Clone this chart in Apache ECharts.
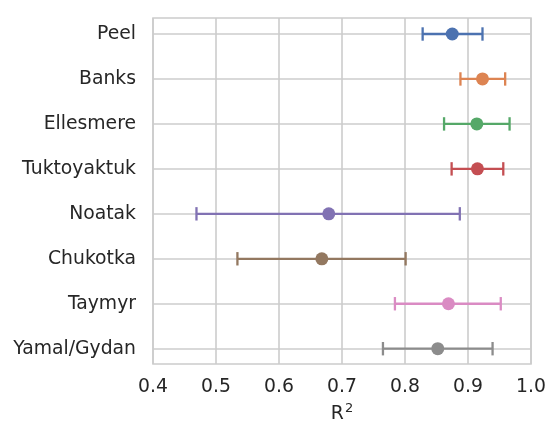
<!DOCTYPE html>
<html>
<head>
<meta charset="utf-8">
<script src="https://cdn.jsdelivr.net/npm/echarts@6/dist/echarts.min.js"></script>
<style>html,body{margin:0;padding:0;background:#fff;}#c{width:546px;height:424px;}</style>
</head>
<body>
<div id="c"></div>
<script>
var categories = ['Peel','Banks','Ellesmere','Tuktoyaktuk','Noatak','Chukotka','Taymyr','Yamal/Gydan'];
var means = [0.875, 0.923, 0.914, 0.915, 0.679, 0.668, 0.869, 0.852];
var lower = [0.828, 0.888, 0.862, 0.874, 0.469, 0.534, 0.784, 0.765];
var upper = [0.923, 0.959, 0.966, 0.956, 0.887, 0.801, 0.952, 0.939];
var xTicks = [0.4, 0.5, 0.6, 0.7, 0.8, 0.9, 1.0];
var colors = ['#4c72b0','#dd8452','#55a868','#c44e52','#8172b3','#937860','#da8bc3','#8c8c8c'];

var font = 'DejaVu Sans';
var txt = '#262626';
var gridCol = '#cccccc';
var fs = 18.8;

var chart = echarts.init(document.getElementById('c'), null, {renderer: 'canvas'});
var errData = categories.map(function (c, i) { return [lower[i], upper[i], i]; });
var ptData = categories.map(function (c, i) { return [means[i], c]; });

chart.setOption({
  animation: false,
  backgroundColor: '#fff',
  grid: [
    {left: 153, right: 15, top: 18, bottom: 60, show: true, borderColor: gridCol, borderWidth: 1.6,
     backgroundColor: 'transparent', containLabel: false, outerBoundsMode: 'none'},
    {left: 153, right: 15, top: 34, bottom: 75.3, containLabel: false, outerBoundsMode: 'none'}
  ],
  xAxis: [
    {gridIndex: 0, type: 'value', min: xTicks[0], max: xTicks[xTicks.length - 1], interval: 0.1,
     axisLine: {show: false}, axisTick: {show: false},
     splitLine: {show: true, lineStyle: {color: gridCol, width: 1.6}},
     axisLabel: {fontFamily: font, fontSize: fs, color: txt, margin: 14,
       formatter: function (v) { return v.toFixed(1); }},
     name: '{r|R}{s|2}', nameLocation: 'middle', nameGap: 38,
     nameTextStyle: {rich: {
       r: {fontFamily: font, fontSize: fs, color: txt, verticalAlign: 'bottom', lineHeight: 22},
       s: {fontFamily: font, fontSize: 13, color: txt, verticalAlign: 'top', lineHeight: 22, padding: [0, 0, 9, 1]}
     }}},
    {gridIndex: 1, type: 'value', min: xTicks[0], max: xTicks[xTicks.length - 1], show: false}
  ],
  yAxis: [
    {gridIndex: 0, type: 'value', min: 0, max: 1, show: false, splitLine: {show: false}},
    {gridIndex: 1, type: 'category', data: categories, inverse: true, boundaryGap: false,
     axisLine: {show: false}, axisTick: {show: false},
     splitLine: {show: true, lineStyle: {color: gridCol, width: 1.6}},
     axisLabel: {fontFamily: font, fontSize: fs, color: txt, margin: 17}}
  ],
  series: [
    {type: 'custom', xAxisIndex: 1, yAxisIndex: 1, data: errData, encode: {x: [0, 1], y: 2},
     renderItem: function (params, api) {
       var i = api.value(2);
       var a = api.coord([api.value(0), i]);
       var b = api.coord([api.value(1), i]);
       var h = 6.7;
       var st = {stroke: colors[i], lineWidth: 2.3};
       return {type: 'group', children: [
         {type: 'line', shape: {x1: a[0], y1: a[1], x2: b[0], y2: b[1]}, style: st},
         {type: 'line', shape: {x1: a[0], y1: a[1] - h, x2: a[0], y2: a[1] + h}, style: st},
         {type: 'line', shape: {x1: b[0], y1: b[1] - h, x2: b[0], y2: b[1] + h}, style: st}
       ]};
     }},
    {type: 'scatter', xAxisIndex: 1, yAxisIndex: 1, data: ptData, symbolSize: 13,
     itemStyle: {opacity: 1, color: function (p) { return colors[p.dataIndex]; }}, z: 5}
  ]
});
</script>
</body>
</html>
